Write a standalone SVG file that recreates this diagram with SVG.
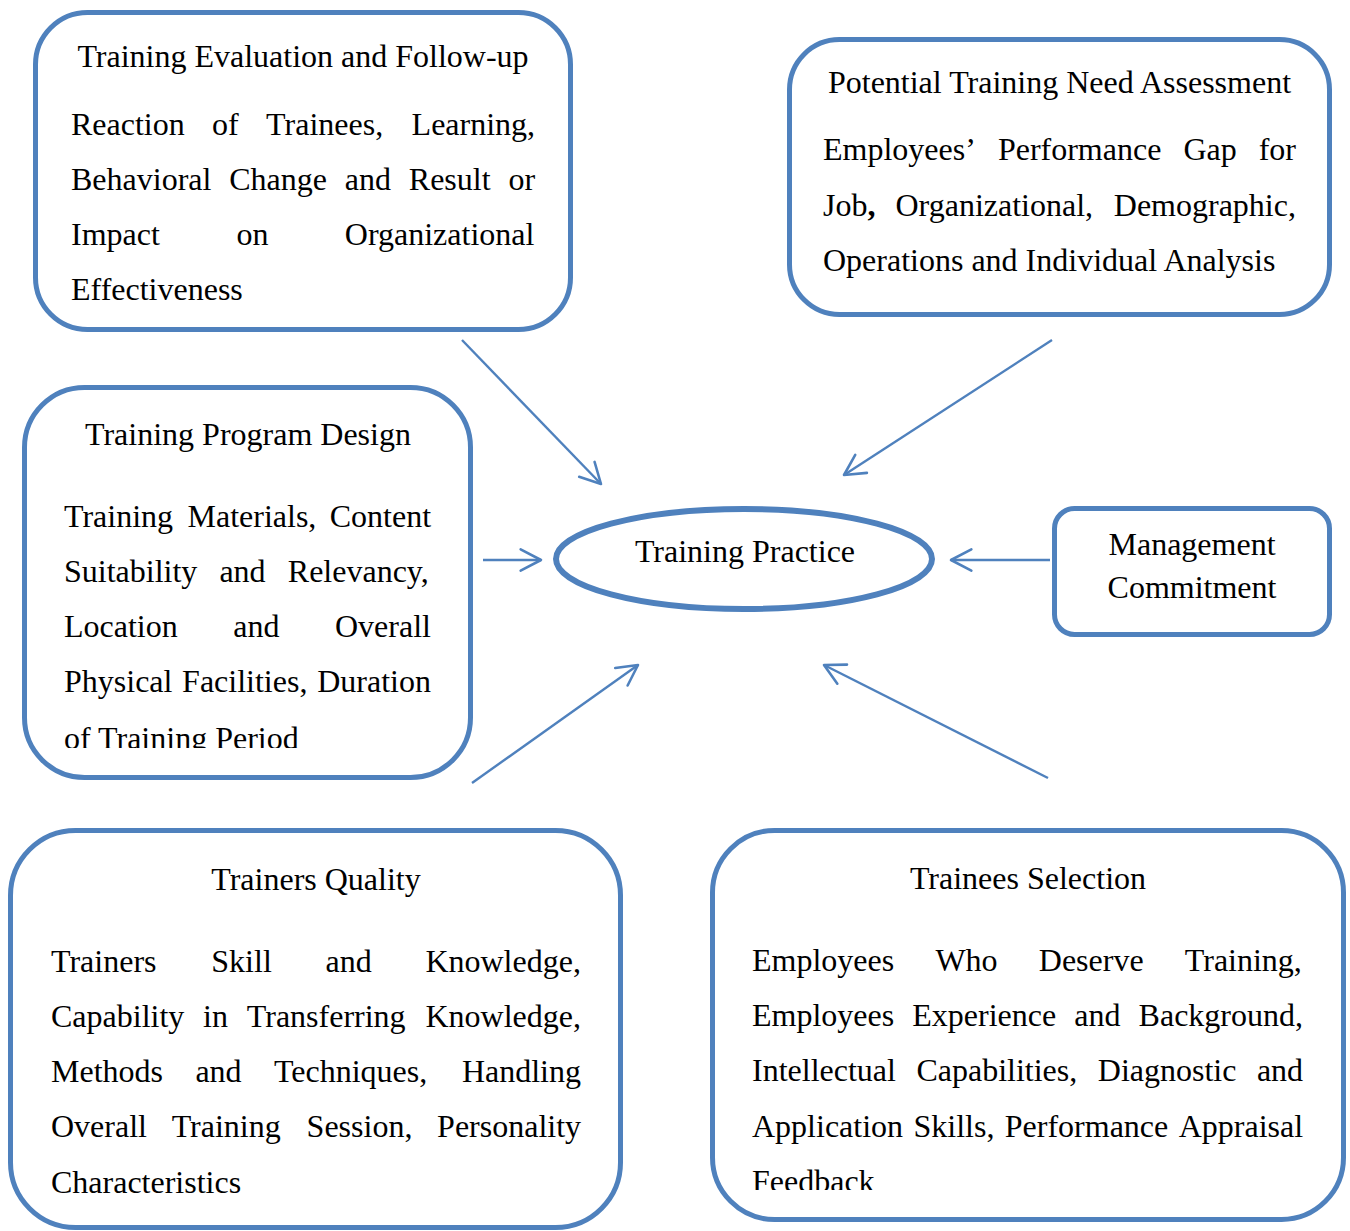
<svg xmlns="http://www.w3.org/2000/svg" width="1350" height="1231" viewBox="0 0 1350 1231">
  <style>
    .box { fill: #ffffff; stroke: #4F81BD; stroke-width: 5; }
    .hub { fill: #ffffff; stroke: #4F81BD; stroke-width: 6; }
    .link { stroke: #4F81BD; stroke-width: 2.4; fill: none; marker-end: url(#chevron); }
    text { font-family: 'Liberation Serif', 'Times New Roman', serif; font-size: 32px; fill: #000000; }
    .c { text-anchor: middle; }
  </style>
  <defs>
    <marker id="chevron" markerUnits="userSpaceOnUse" markerWidth="30" markerHeight="30" viewBox="-24 -14 28 28" refX="0" refY="0" orient="auto">
      <path d="M -19 -10 L 0 0 L -19 10" fill="none" stroke="#4F81BD" stroke-width="2.4" stroke-linecap="round" stroke-linejoin="round"/>
    </marker>
    <clipPath id="clipDesign">
      <rect x="30" y="390" width="435" height="358"/>
    </clipPath>
    <clipPath id="clipTrainees">
      <rect x="718" y="835" width="620" height="355"/>
    </clipPath>
  </defs>

  <rect width="1350" height="1231" fill="#ffffff"/>

  <!-- arrows pointing into the central practice ellipse -->
  <g id="connectors">
    <line class="link" x1="462" y1="340" x2="601" y2="484"/>
    <line class="link" x1="1052" y1="340" x2="844" y2="475"/>
    <line class="link" x1="483" y1="560" x2="541" y2="560"/>
    <line class="link" x1="1050" y1="560" x2="951" y2="560"/>
    <line class="link" x1="472" y1="783" x2="638" y2="665"/>
    <line class="link" x1="1048" y1="778" x2="824" y2="665"/>
  </g>

  <g id="evaluation">
    <rect class="box" x="35.5" y="12.5" width="535" height="317" rx="52" ry="52"/>
    <text class="c" x="303" y="67">Training Evaluation and Follow-up</text>
    <text y="135"><tspan x="71">Reaction</tspan><tspan x="212.1">of</tspan><tspan x="266.1">Trainees,</tspan><tspan x="411.6">Learning,</tspan></text>
    <text y="190"><tspan x="71">Behavioral</tspan><tspan x="229.2">Change</tspan><tspan x="344.8">and</tspan><tspan x="408.8">Result</tspan><tspan x="508.4">or</tspan></text>
    <text y="245"><tspan x="71">Impact</tspan><tspan x="236.4">on</tspan><tspan x="344.8">Organizational</tspan></text>
    <text x="71" y="300">Effectiveness</text>
  </g>

  <g id="need-assessment">
    <rect class="box" x="789.5" y="39.5" width="540" height="275" rx="50" ry="50"/>
    <text class="c" x="1059.5" y="93">Potential Training Need Assessment</text>
    <text y="160"><tspan x="823">Employees’</tspan><tspan x="997.9">Performance</tspan><tspan x="1183.4">Gap</tspan><tspan x="1258.7">for</tspan></text>
    <text y="216"><tspan x="823">Job<tspan font-weight="bold">,</tspan></tspan><tspan x="895.5">Organizational,</tspan><tspan x="1113.8">Demographic,</tspan></text>
    <text x="823" y="271">Operations and Individual Analysis</text>
  </g>

  <g id="program-design">
    <rect class="box" x="24.5" y="387.5" width="446" height="390" rx="60" ry="60"/>
    <text class="c" x="248" y="445">Training Program Design</text>
    <g clip-path="url(#clipDesign)">
      <text y="527"><tspan x="64">Training</tspan><tspan x="187.5">Materials,</tspan><tspan x="329.7">Content</tspan></text>
      <text y="582"><tspan x="64">Suitability</tspan><tspan x="219.4">and</tspan><tspan x="287.8">Relevancy,</tspan></text>
      <text y="637"><tspan x="64">Location</tspan><tspan x="233.3">and</tspan><tspan x="335">Overall</tspan></text>
      <text y="692"><tspan x="64">Physical</tspan><tspan x="182.1">Facilities,</tspan><tspan x="317.2">Duration</tspan></text>
      <text x="64" y="749">of Training Period</text>
    </g>
  </g>

  <g id="training-practice">
    <ellipse class="hub" cx="744" cy="559" rx="188" ry="50"/>
    <text class="c" x="745" y="562">Training Practice</text>
  </g>

  <g id="management">
    <rect class="box" x="1054.5" y="508.5" width="275" height="126" rx="20" ry="20"/>
    <text class="c" x="1192" y="555">Management</text>
    <text class="c" x="1192" y="598">Commitment</text>
  </g>

  <g id="trainers-quality">
    <rect class="box" x="10.5" y="830.5" width="610" height="397" rx="65" ry="65"/>
    <text class="c" x="316" y="890">Trainers Quality</text>
    <text y="972"><tspan x="51">Trainers</tspan><tspan x="211.3">Skill</tspan><tspan x="325.5">and</tspan><tspan x="425.4">Knowledge,</tspan></text>
    <text y="1027"><tspan x="51">Capability</tspan><tspan x="203.1">in</tspan><tspan x="246.8">Transferring</tspan><tspan x="425.5">Knowledge,</tspan></text>
    <text y="1082"><tspan x="51">Methods</tspan><tspan x="195.4">and</tspan><tspan x="274">Techniques,</tspan><tspan x="461.9">Handling</tspan></text>
    <text y="1137"><tspan x="51">Overall</tspan><tspan x="171.7">Training</tspan><tspan x="306.6">Session,</tspan><tspan x="437.1">Personality</tspan></text>
    <text x="51" y="1193">Characteristics</text>
  </g>

  <g id="trainees-selection">
    <rect class="box" x="712.5" y="830.5" width="631" height="389" rx="62" ry="62"/>
    <text class="c" x="1028" y="889">Trainees Selection</text>
    <g clip-path="url(#clipTrainees)">
      <text y="971"><tspan x="752">Employees</tspan><tspan x="935.4">Who</tspan><tspan x="1038.8">Deserve</tspan><tspan x="1184.8">Training,</tspan></text>
      <text y="1026"><tspan x="752">Employees</tspan><tspan x="912.3">Experience</tspan><tspan x="1074.3">and</tspan><tspan x="1138.6">Background,</tspan></text>
      <text y="1081"><tspan x="752">Intellectual</tspan><tspan x="916.4">Capabilities,</tspan><tspan x="1097.8">Diagnostic</tspan><tspan x="1256.9">and</tspan></text>
      <text y="1137"><tspan x="752">Application</tspan><tspan x="913.5">Skills,</tspan><tspan x="1004.8">Performance</tspan><tspan x="1178.7">Appraisal</tspan></text>
      <text x="752" y="1192">Feedback</text>
    </g>
  </g>
</svg>
